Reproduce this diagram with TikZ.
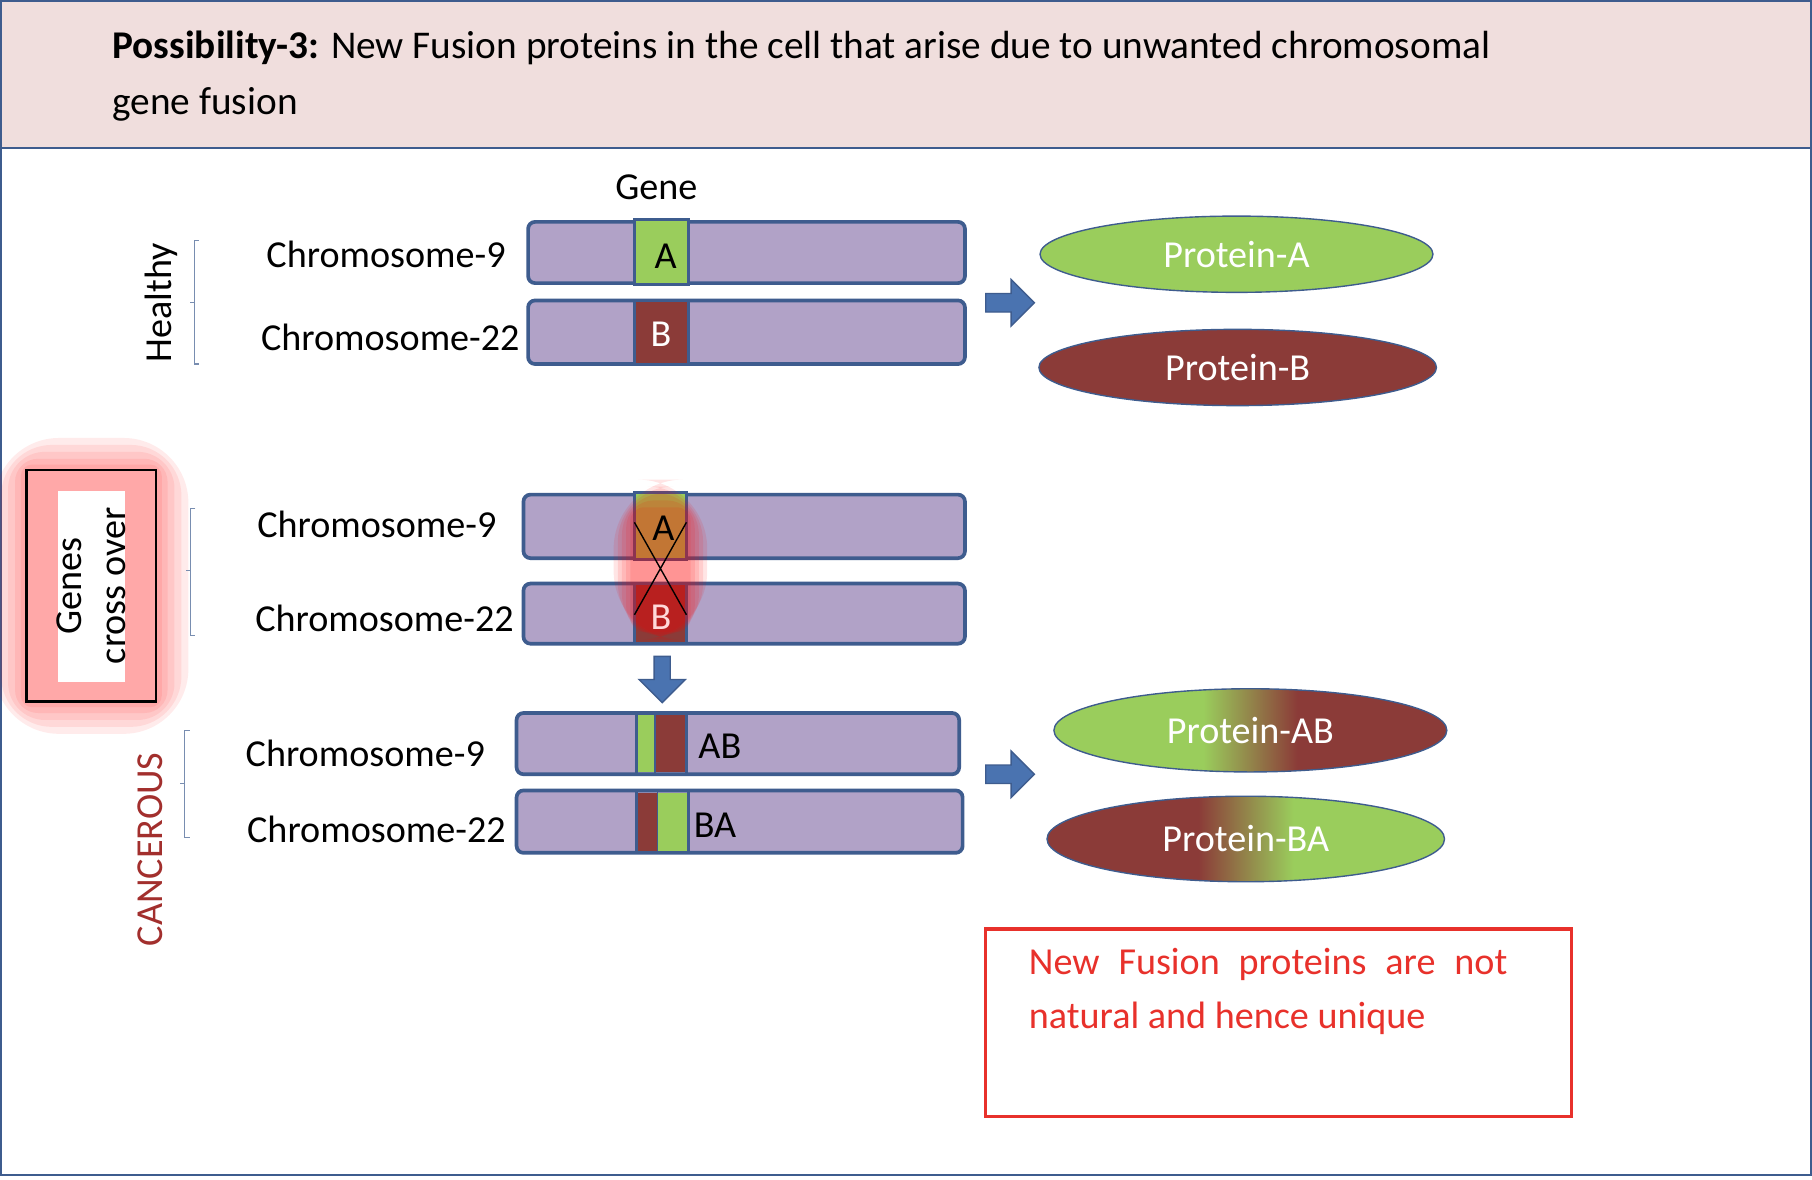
\documentclass[tikz,border=0pt]{standalone}
\usepackage{fontspec}
\setmainfont{Carlito}
\usetikzlibrary{shapes.geometric,arrows.meta}
\definecolor{chrfill}{HTML}{B1A2C7}
\definecolor{chredge}{HTML}{3E5C8E}
\definecolor{gA}{HTML}{9ACD5C}
\definecolor{gB}{HTML}{8B3B38}
\definecolor{hdr}{HTML}{F0DEDD}
\definecolor{arr}{HTML}{4A73B0}
\definecolor{rtext}{HTML}{E8312B}
\pgfdeclarehorizontalshading{abshade}{100bp}{color(0bp)=(gA); color(44bp)=(gA); color(56bp)=(gB); color(100bp)=(gB)}
\pgfdeclarehorizontalshading{bashade}{100bp}{color(0bp)=(gB); color(44bp)=(gB); color(56bp)=(gA); color(100bp)=(gA)}
\tikzset{
 chr/.style={draw=chredge, line width=1.6pt, fill=chrfill, rounded corners=3pt},
 gene/.style={draw=chredge, line width=1.2pt},
 lbl/.style={font=\fontsize{16.5}{19}\selectfont, anchor=east, inner sep=0},
 prot/.style={ellipse, draw=chredge, line width=0.6pt, text=white, font=\fontsize{16.5}{19}\selectfont, minimum width=170pt, minimum height=33pt},
 fat/.style={fill=arr, draw=chredge, line width=0.6pt},
 brk/.style={draw=chredge!70, line width=0.5pt},
}
\begin{document}
\begin{tikzpicture}[x=0.5pt,y=-0.5pt]
\useasboundingbox (0,0) rectangle (1568,1021);
\fill[white] (0,0) rectangle (1568,1021);
\fill[hdr] (0,0) rectangle (1568,128);
\draw[chredge, line width=1pt] (1,1) rectangle (1567,1017);
\draw[chredge, line width=1pt] (0,128) -- (1568,128);
\node[anchor=west, align=left, font=\fontsize{17}{24}\selectfont, inner sep=0] (title) at (97,66)
 {\textbf{Possibility-3:} New Fusion proteins in the cell that arise due to unwanted chromosomal\\gene fusion};
\node[font=\fontsize{16.5}{19}\selectfont] (gene) at (568,162) {Gene};
% healthy
\draw[chr] (457,192) rectangle (835,245);
\draw[gene, fill=gA] (549,190) rectangle (596,246);
\node (ga) at (576,222) {\fontsize{16.5}{19}\selectfont A};
\draw[chr] (457,260) rectangle (835,315);
\draw[gene, fill=gB] (549,260) rectangle (596,315);
\node[text=white] (gb) at (572,289) {\fontsize{16.5}{19}\selectfont B};
\node[lbl] (h9) at (438,220) {Chromosome-9};
\node[lbl] (h22) at (450,292) {Chromosome-22};
\draw[brk] (172,208) -- (168,208) -- (168,315) -- (172,315);
\draw[brk] (168,262) -- (164,262);
\node[rotate=90, font=\fontsize{16.5}{19}\selectfont] (healthy) at (140,262) {Healthy};
\draw[fat] (853,254) -- (875,254) -- (875,242) -- (895,262) -- (875,282) -- (875,270) -- (853,270) -- cycle;
\node[prot, fill=gA] (pa) at (1070,220) {Protein-A};
\node[prot, fill=gB, minimum width=172pt] (pb) at (1071,318) {Protein-B};
% cross over
\foreach \g in {28,22,16,10,5}{
 \fill[red, opacity=0.08, rounded corners=\g pt] (23-\g,407-\g) rectangle (135+\g,607+\g);
}
\fill[white] (50,425) rectangle (108,590);
\draw[black, line width=1pt] (23,407) rectangle (135,607);
\node[rotate=90, align=center, font=\fontsize{16.5}{19}\selectfont] (gco) at (79,507) {Genes\\cross over};
\draw[chr] (453,428) rectangle (835,483);
\draw[gene, fill=gA] (549,426) rectangle (594,484);
\draw[chr] (453,505) rectangle (835,557);
\draw[gene, fill=gB] (549,505) rectangle (594,557);
\foreach \g in {30,24,18,12,6}{
 \fill[red, opacity=0.1, rounded corners=\g pt] (549-\g*0.6,445-\g) rectangle (594+\g*0.6,545+\g*0.3);
}
\node (ca) at (574,457) {\fontsize{16.5}{19}\selectfont A};
\node[text=white!85!red] (cb) at (572,534) {\fontsize{16.5}{19}\selectfont B};
\draw[black, line width=0.6pt] (549,452) -- (594,532) (594,452) -- (549,532);
\node[lbl] (c9) at (430,454) {Chromosome-9};
\node[lbl] (c22) at (445,535) {Chromosome-22};
\draw[brk] (169,440) -- (165,440) -- (165,550) -- (169,550);
\draw[brk] (165,494) -- (161,494);
\draw[fat] (566,568) -- (580,568) -- (580,588) -- (593,588) -- (573,608) -- (553,588) -- (566,588) -- cycle;
% cancerous
\draw[chr] (447,617) rectangle (830,670);
\fill[gA] (551,619) rectangle (567,668);
\fill[gB] (567,619) rectangle (594,668);
\draw[gene] (551,617) rectangle (594,670);
\draw[chredge, line width=0.8pt] (567,617) -- (567,670);
\node[anchor=west, inner sep=0] (ab) at (604,646) {\fontsize{16.5}{19}\selectfont AB};
\draw[chr] (447,684) rectangle (833,738);
\fill[gB] (551,686) rectangle (569,736);
\fill[gA] (569,686) rectangle (596,736);
\draw[gene] (551,684) rectangle (596,738);
\draw[chredge, line width=0.8pt] (569,684) -- (569,738);
\node[anchor=west, inner sep=0] (ba) at (600,714) {\fontsize{16.5}{19}\selectfont BA};
\node[lbl] (k9) at (420,652) {Chromosome-9};
\node[lbl] (k22) at (438,718) {Chromosome-22};
\draw[brk] (164,632) -- (160,632) -- (160,725) -- (164,725);
\draw[brk] (160,678) -- (156,678);
\node[rotate=90, text=gB!80!red, font=\fontsize{16.5}{19}\selectfont] (canc) at (130,735) {CANCEROUS};
\draw[fat] (853,662) -- (875,662) -- (875,650) -- (895,670) -- (875,690) -- (875,678) -- (853,678) -- cycle;
\node[prot, shading=abshade, minimum width=170pt, minimum height=36pt] (pab) at (1082,632) {Protein-AB};
\node[prot, shading=bashade, minimum width=172pt, minimum height=37pt] (pba) at (1078,726) {Protein-BA};
% note
\draw[rtext, line width=1.5pt] (853,804) rectangle (1360,966);
\node[anchor=north west, inner sep=0, text width=207pt, align=justify, text=rtext, font=\fontsize{16.5}{23.5}\selectfont] (note) at (890,820)
 {New Fusion proteins are not natural and hence unique};
\end{tikzpicture}
\end{document}
